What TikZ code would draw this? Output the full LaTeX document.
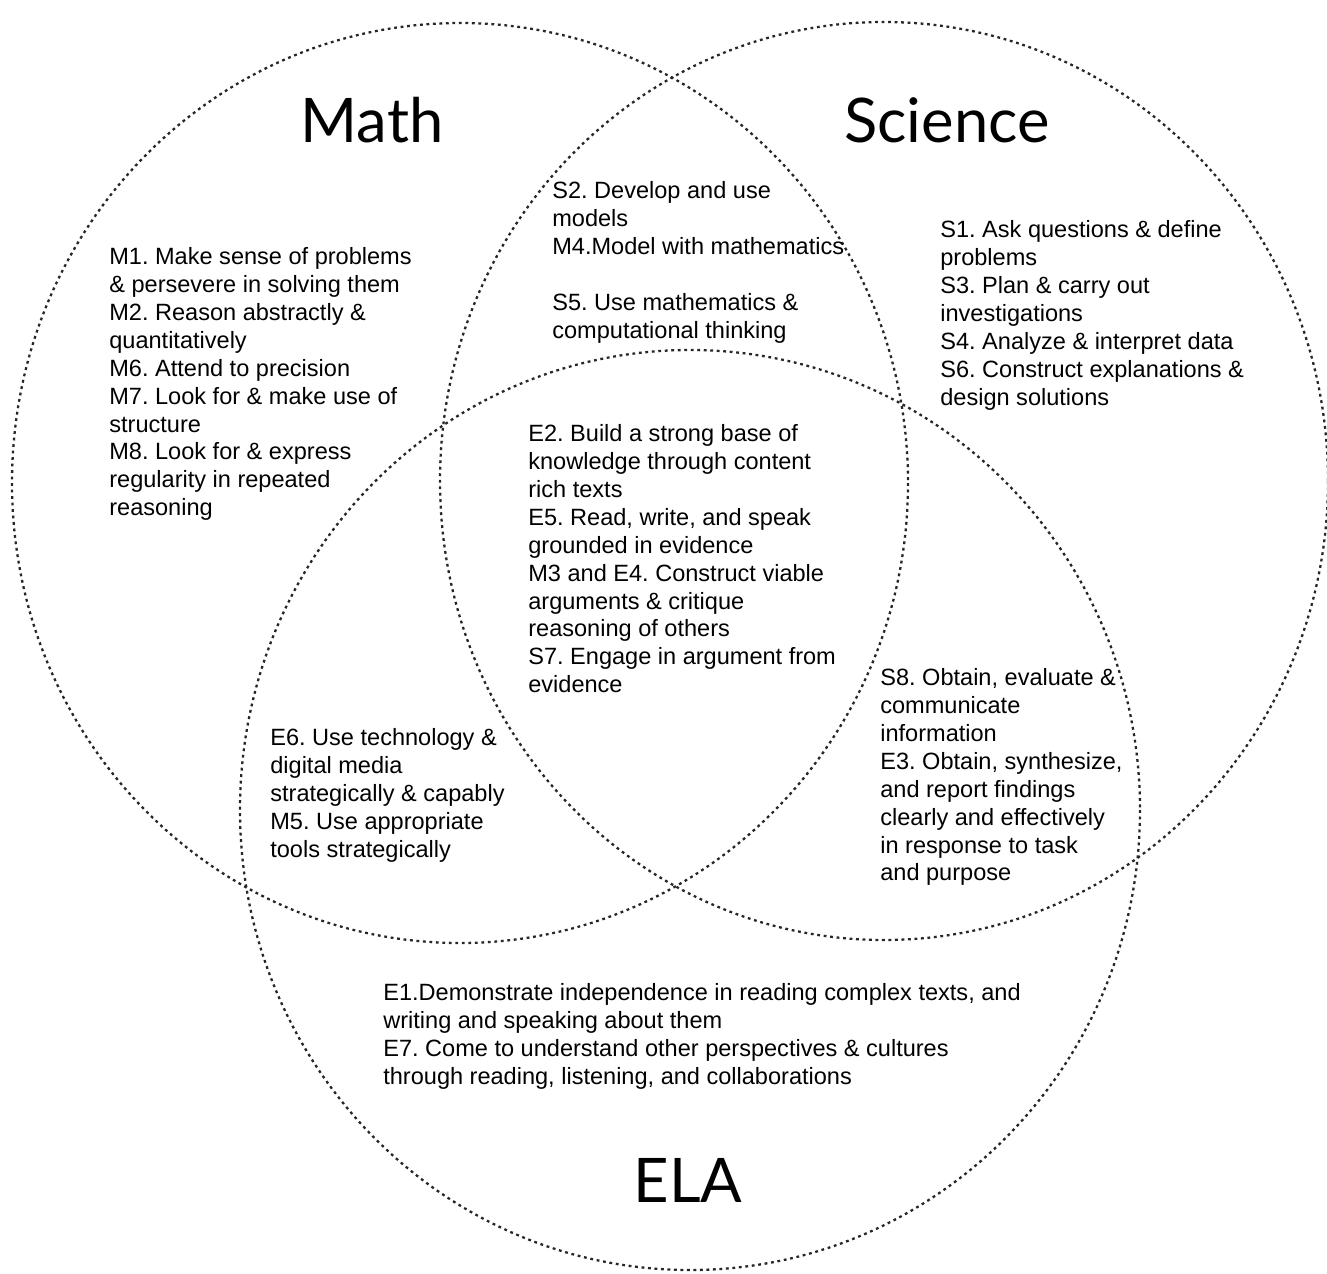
\documentclass[tikz,border=0pt]{standalone}
\usepackage{fontspec}
\setmainfont{Liberation Sans}
\newfontfamily\titlefont{Lato}
\usepackage{tikz}
\frenchspacing

\tikzset{
  ring/.style={line width=1.3pt, black!85, dash pattern=on 1.6pt off 2.1pt},
  title/.style={font=\titlefont\fontsize{35}{40}\selectfont, inner sep=0pt},
  items/.style={anchor=north west, align=left, inner sep=0pt,
    font=\fontsize{13.4}{15.9}\selectfont}
}

\begin{document}
\begin{tikzpicture}[x=0.02cm, y=-0.02cm]
\useasboundingbox (0,0) rectangle (1327,1273);
% Circles
\draw[ring] (460,483) ellipse [x radius=448, y radius=460];
\draw[ring] (884,481) ellipse [x radius=444, y radius=459];
\draw[ring] (690,810) ellipse [x radius=450, y radius=460];
% Titles
\node[title] (math) at (372,120) {Math};
\node[title] (science) at (947,120) {Science};
\node[title] (ela) at (688,1180) {ELA};
% Math only
\node[items] (mathonly) at (109,247) {M1. Make sense of problems\\
\& persevere in solving them\\
M2. Reason abstractly \&\\
quantitatively\\
M6. Attend to precision\\
M7. Look for \& make use of\\
structure\\
M8. Look for \& express\\
regularity in repeated\\
reasoning};
% Science only
\node[items] (scienceonly) at (940,220) {S1. Ask questions \& define\\
problems\\
S3. Plan \& carry out\\
investigations\\
S4. Analyze \& interpret data\\
S6. Construct explanations \&\\
design solutions};
% Math and Science
\node[items] (mathscience) at (552,181) {S2. Develop and use\\
models\\
M4.Model with mathematics\\[15.9pt]
S5. Use mathematics \&\\
computational thinking};
% All three
\node[items] (allthree) at (528,424) {E2. Build a strong base of\\
knowledge through content\\
rich texts\\
E5. Read, write, and speak\\
grounded in evidence\\
M3 and E4. Construct viable\\
arguments \& critique\\
reasoning of others\\
S7. Engage in argument from\\
evidence};
% Science and ELA
\node[items] (scienceela) at (880,668) {S8. Obtain, evaluate \&\\
communicate\\
information\\
E3. Obtain, synthesize,\\
and report findings\\
clearly and effectively\\
in response to task\\
and purpose};
% Math and ELA
\node[items] (mathela) at (270,728) {E6. Use technology \&\\
digital media\\
strategically \& capably\\
M5. Use appropriate\\
tools strategically};
% ELA only
\node[items] (elaonly) at (383,983) {E1.Demonstrate independence in reading complex texts, and\\
writing and speaking about them\\
E7. Come to understand other perspectives \& cultures\\
through reading, listening, and collaborations};
\end{tikzpicture}
\end{document}
